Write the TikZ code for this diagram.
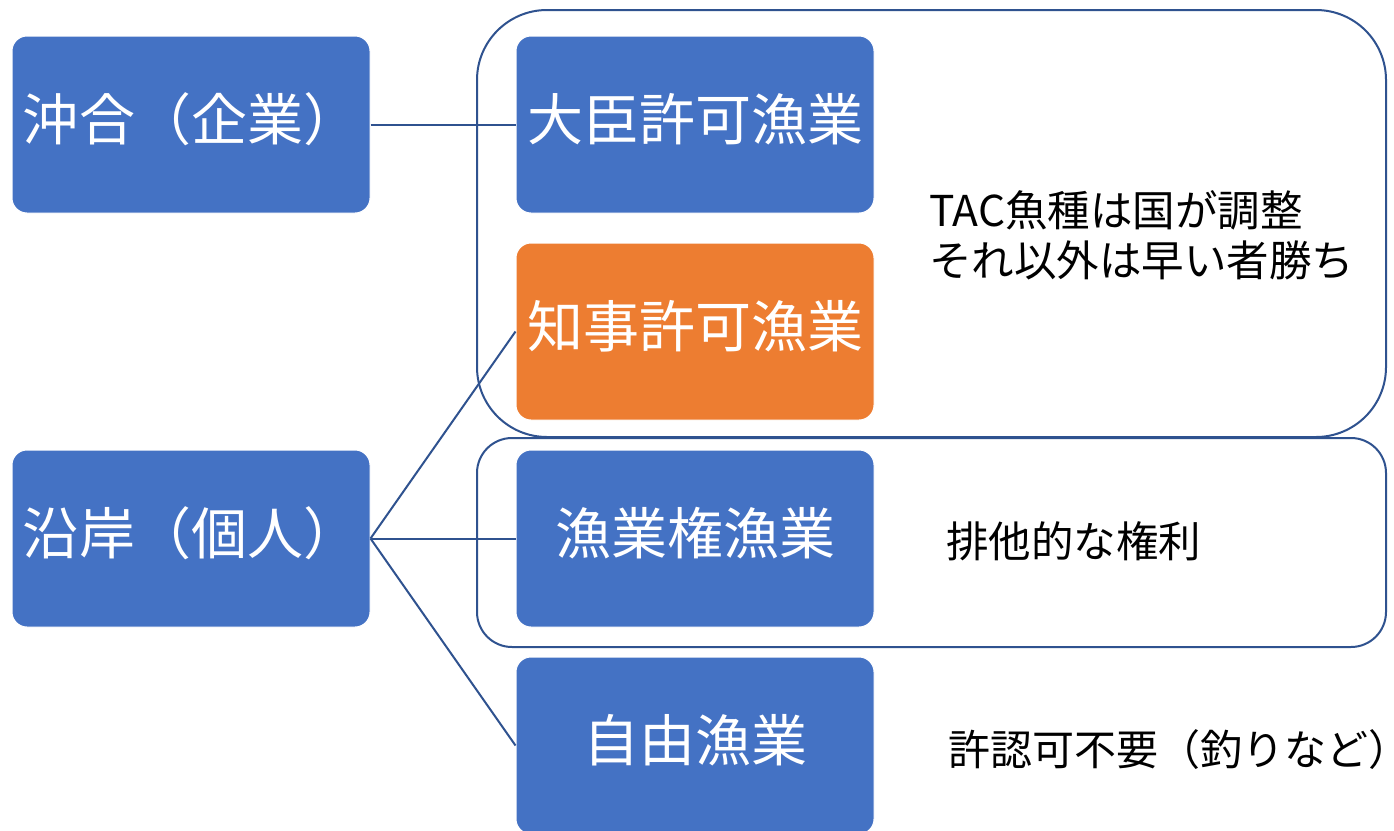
\documentclass[tikz,border=0pt]{standalone}
\usepackage{fontspec}
\setmainfont{Noto Sans CJK JP}
\definecolor{boxblue}{HTML}{4472C4}
\definecolor{boxorange}{HTML}{ED7D31}
\definecolor{linecol}{HTML}{2F528F}
\tikzset{
  box/.style={draw=white, line width=1, fill=boxblue, rounded corners=15,
    minimum width=358, minimum height=177, inner sep=0, text=white,
    text height=44pt, text depth=13pt,
    font=\fontsize{56}{60}\selectfont},
  orangebox/.style={box, fill=boxorange},
  conn/.style={draw=linecol, line width=2},
  outline/.style={draw=linecol, line width=2},
  note/.style={anchor=west, inner sep=0, align=left, text=black,
    font=\fontsize{42.5}{50}\selectfont}
}
\begin{document}
\begin{tikzpicture}[x=1pt, y=-1pt]
\clip (0,0) rectangle (1394,830);
\fill[white] (0,0) rectangle (1394,830);
% group outlines
\draw[outline, rounded corners=70] (477,10) rectangle (1386,437);
\draw[outline, rounded corners=35] (477,438) rectangle (1386,647);
% boxes
\node[box] (oki) at (191,124.5) {沖合（企業）};
\node[box] (engan) at (191,538.5) {沿岸（個人）};
\node[box] (daijin) at (695,124.5) {大臣許可漁業};
\node[orangebox] (chiji) at (695,331.5) {知事許可漁業};
\node[box] (kenri) at (695,538.5) {漁業権漁業};
\node[box] (jiyu) at (695,745.5) {自由漁業};
% connectors
\draw[conn] (oki.east) -- (daijin.west);
\draw[conn] (engan.east) -- (chiji.west);
\draw[conn] (engan.east) -- (kenri.west);
\draw[conn] (engan.east) -- (jiyu.west);
% notes
\node[note] (n1) at (929,235) {TAC魚種は国が調整\\それ以外は早い者勝ち};
\node[note] (n2) at (946,541) {排他的な権利};
\node[note, font=\fontsize{42}{50}\selectfont] (n3) at (948,750) {許認可不要（釣りなど\makebox[0.55em][l]{）}};
\end{tikzpicture}
\end{document}
